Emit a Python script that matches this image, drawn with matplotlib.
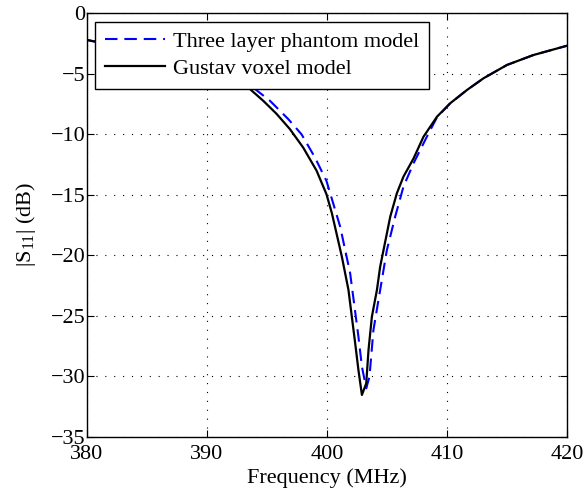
import matplotlib
matplotlib.use("Agg")
import matplotlib.pyplot as plt

plt.rcParams['font.family'] = ['Liberation Serif', 'DejaVu Serif']
plt.rcParams['mathtext.fontset'] = 'custom'
plt.rcParams['mathtext.rm'] = 'Liberation Serif'
plt.rcParams['mathtext.it'] = 'Liberation Serif:italic'

# Gustav voxel model
freq_gustav = [380, 384, 387, 390, 392, 393.58, 394.69, 395.8, 396.92, 398.03, 399.14, 399.97,
               400.42, 401.25, 401.8, 402.08, 402.36, 402.63, 402.92, 403.28, 403.47,
               403.75, 404.17, 404.44, 405.0, 405.28, 405.83, 406.38, 407.22, 408.05,
               409.17, 410.27, 411.67, 413.05, 415.0, 417.2, 420]
s11_gustav = [-2.2, -3.0, -3.9, -4.7, -5.4, -6.25, -7.22, -8.3, -9.57, -11.1, -13.0, -14.96,
              -16.53, -20.12, -22.87, -25.08, -27.28, -29.49, -31.55, -30.59, -27.83,
              -25.08, -22.87, -20.95, -18.19, -16.81, -14.88, -13.5, -12.0, -10.2,
              -8.55, -7.44, -6.34, -5.37, -4.27, -3.45, -2.68]

# Three layer phantom model
freq_phantom = [380, 384, 387, 390, 392, 394.0, 395.25, 396.78, 397.89, 399.0, 399.97, 401.11,
                401.94, 402.63, 402.92, 403.28, 403.55, 403.88, 404.44, 405.0, 405.69,
                406.38, 407.22, 408.33, 409.17, 410.27, 411.67, 413.05, 415.0, 417.2, 420]
s11_phantom = [-2.2, -3.0, -3.9, -4.7, -5.4, -6.25, -7.22, -8.74, -10.0, -11.9, -13.86, -17.64,
               -21.49, -26.73, -29.21, -31.0, -30.04, -26.18, -22.87, -19.57, -16.81,
               -14.33, -12.4, -10.2, -8.6, -7.44, -6.34, -5.37, -4.27, -3.45, -2.68]

xticks = [380, 390, 400, 410, 420]
yticks = [-35, -30, -25, -20, -15, -10, -5, 0]

fig = plt.figure(figsize=(5.86, 4.96), dpi=100)
ax = fig.add_axes([86.7/586, 1 - 436.7/496, 480.3/586, 423.4/496])

ax.plot(freq_phantom, s11_phantom, color='#0000ff', linestyle=(0, (6, 3.3)), linewidth=1.5,
        label='Three layer phantom model')
ax.plot(freq_gustav, s11_gustav, color='black', linewidth=1.6, label='Gustav voxel model')

ax.set_xlim(380, 420)
ax.set_ylim(-35, 0)
ax.set_xticks(xticks)
ax.set_yticks(yticks)
ax.grid(True, color='black', linestyle=(0, (1, 7)), linewidth=0.8)
ax.tick_params(direction='in', top=True, right=True, labelsize=16, length=5)
ax.tick_params(axis='x', pad=6)
ax.tick_params(axis='y', pad=1)
for s in ax.spines.values():
    s.set_linewidth(1.0)

ax.set_xlabel('Frequency (MHz)', fontsize=16, labelpad=3)
ax.set_ylabel(r'$|\mathrm{S}_{11}|$ (dB)', fontsize=16, labelpad=9)

leg = ax.legend(loc='upper left', fontsize=16, frameon=True, fancybox=False,
                edgecolor='black', framealpha=1, handlelength=2.7, borderpad=0.45,
                labelspacing=0.28, borderaxespad=0.37, handletextpad=0.35)
leg.get_frame().set_linewidth(1.0)

fig.savefig('out.png', dpi=100)
